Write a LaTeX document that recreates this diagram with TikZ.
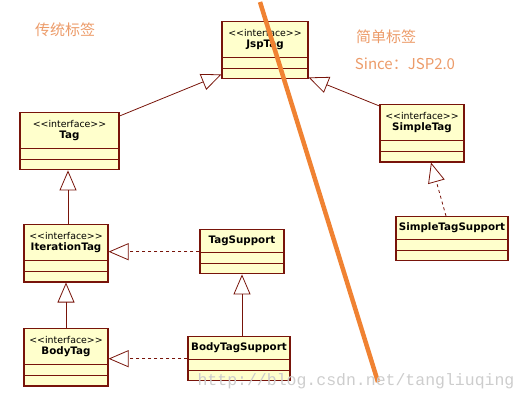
\documentclass[tikz,border=0pt]{standalone}
\usepackage{fontspec}
\setmainfont{DejaVu Sans}
\setmonofont{Liberation Mono}
\newfontfamily\cjk{Noto Sans CJK SC}
\usetikzlibrary{arrows.meta,shapes.multipart}

\definecolor{umlline}{RGB}{120,20,10}
\definecolor{umlfill}{RGB}{255,255,204}
\definecolor{cutorange}{RGB}{240,130,50}
\definecolor{notecolor}{RGB}{236,155,105}
\definecolor{wmgray}{RGB}{205,205,205}

% header compartments
\newcommand{\ifacehead}[1]{{\fontsize{9.4}{11}\selectfont
  \begin{tabular}{@{}c@{}}\rule{0pt}{14pt}<{}<interface>{}>\\
  \fontsize{10.3}{11}\selectfont\bfseries #1\rule[-10pt]{0pt}{10pt}\end{tabular}}}
\newcommand{\classhead}[1]{{\fontsize{10.3}{11}\selectfont\bfseries
  \rule{0pt}{13pt}#1\rule[-9pt]{0pt}{9pt}}}

\begin{document}
\begin{tikzpicture}[x=1pt,y=-1pt,
  uml/.style={rectangle split,rectangle split parts=3,
    rectangle split empty part height=9.5pt,draw=umlline,fill=umlfill,
    line width=1.1pt,inner sep=0pt,anchor=north},
  gen/.style={draw=umlline,line width=0.8pt,-{Triangle[open,length=20pt,width=17pt]}},
  impl/.style={gen,dash pattern=on 3pt off 3pt},
  note/.style={font=\cjk\fontsize{15}{18}\selectfont,text=notecolor}]

  \useasboundingbox (0,0) rectangle (529,403);

  \node[note] (old) at (65,30) {传统标签};
  \node[note] (simple) at (386,37) {简单标签};
  \node[note] (since) at (405,64) {Since：JSP2.0};

  \node[uml,minimum width=86pt] (jsptag) at (265,21) {\ifacehead{JspTag}};
  \node[uml,minimum width=99pt] (tag) at (69.5,112) {\ifacehead{Tag}};
  \node[uml,minimum width=84pt] (itertag) at (66,224) {\ifacehead{IterationTag}};
  \node[uml,minimum width=84pt] (bodytag) at (66,328) {\ifacehead{BodyTag}};
  \node[uml,minimum width=84pt] (tagsup) at (242,229) {\classhead{TagSupport}};
  \node[uml,minimum width=102pt] (bodysup) at (239,336) {\classhead{BodyTagSupport}};
  \node[uml,minimum width=84pt] (simpletag) at (422,104) {\ifacehead{SimpleTag}};
  \node[uml,minimum width=112pt] (simplesup) at (452,216) {\classhead{SimpleTagSupport}};

  \path
   ([yshift=-4pt]tag.north east) edge[gen] ([yshift=5pt]jsptag.south west)
   ([yshift=-2pt]simpletag.north west) edge[gen] ([yshift=2pt]jsptag.south east)
   ([xshift=2pt]itertag.north) edge[gen] ([xshift=2pt]itertag.north |- tag.south)
   (bodytag.north) edge[gen] (itertag.south)
   (bodysup.north -| tagsup.south) edge[gen] (tagsup.south)
   (tagsup.west) edge[impl] (tagsup.west -| itertag.east)
   (bodysup.west) edge[impl] (bodysup.west -| bodytag.east)
   ([xshift=-6pt]simplesup.north) edge[impl] ([xshift=9pt]simpletag.south);

  \coordinate (cuttop) at (260,2);
  \coordinate (cutbot) at (378,382);
  \draw[cutorange,line width=4.5pt] (cuttop) -- (cutbot);

  \node[text=wmgray,font=\ttfamily\fontsize{16.5}{18}\selectfont] (wm) at (356,381)
    {http://blog.csdn.net/tangliuqing};
\end{tikzpicture}
\end{document}
